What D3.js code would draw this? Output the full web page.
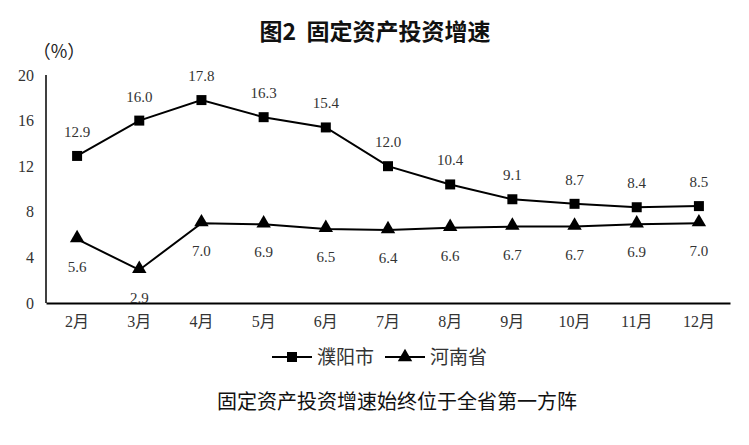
<!DOCTYPE html>
<html><head><meta charset="utf-8">
<script src="https://cdn.jsdelivr.net/npm/d3@7"></script>
<style>body{margin:0;background:#fff}svg{display:block}</style>
</head><body><div id="c"></div>
<script>
const months = ["2月","3月","4月","5月","6月","7月","8月","9月","10月","11月","12月"];
const puyang = [12.9,16.0,17.8,16.3,15.4,12.0,10.4,9.1,8.7,8.4,8.5];
const henan = [5.6,2.9,7.0,6.9,6.5,6.4,6.6,6.7,6.7,6.9,7.0];
const yTicks = [0,4,8,12,16,20];
const seriesNames = ["濮阳市","河南省"];
const title = "图2  固定资产投资增速";
const caption = "固定资产投资增速始终位于全省第一方阵";

const W=749,H=445;
const serif = "'Liberation Serif','Times New Roman','Noto Sans CJK SC',serif";
const cjk = "'Noto Sans CJK SC',sans-serif";
const svg = d3.select("#c").append("svg").attr("width",W).attr("height",H);
const x = d3.scaleBand().domain(months).range([46,730]);
const y = d3.scaleLinear().domain([0,20]).range([303,75]);
const cx = d => x(d)+x.bandwidth()/2;

svg.append("text").attr("x",375).attr("y",40).attr("text-anchor","middle")
  .style("white-space","pre")
  .attr("font-family",cjk).attr("font-weight","bold").attr("font-size",23).attr("fill","#111").text(title);
svg.append("text").attr("x",59).attr("y",58).attr("text-anchor","middle")
  .attr("font-family",cjk).attr("font-size",18).attr("fill","#222").text("（%）");

// y axis
const ya = svg.append("g").attr("transform","translate(46,0)")
  .call(d3.axisLeft(y).tickValues(yTicks).tickSize(0).tickPadding(12));
ya.select(".domain").attr("stroke","#000").attr("stroke-width",1.5).attr("d","M0,75V303");
ya.selectAll("text").attr("font-family",serif).attr("font-size",16).attr("fill","#333");

const xa = svg.append("g").attr("transform","translate(0,303)")
  .call(d3.axisBottom(x).tickSize(0).tickPadding(13));
xa.select(".domain").attr("stroke","#000").attr("stroke-width",2);
xa.selectAll("text").attr("font-family",serif).attr("font-size",16).attr("fill","#333");

const line = d3.line().x((d,i)=>cx(months[i])).y(d=>y(d));
svg.append("path").datum(puyang).attr("d",line).attr("fill","none").attr("stroke","#000").attr("stroke-width",2);
svg.append("path").datum(henan).attr("d",line).attr("fill","none").attr("stroke","#000").attr("stroke-width",2);

const sq = d3.symbol().type(d3.symbolSquare).size(100);
const tri = d3.symbol().type(d3.symbolTriangle).size(90);
svg.selectAll(".sq").data(puyang).enter().append("path")
  .attr("d",sq).attr("transform",(d,i)=>`translate(${cx(months[i])},${y(d)})`).attr("fill","#000");
svg.selectAll(".tr").data(henan).enter().append("path")
  .attr("d",tri).attr("transform",(d,i)=>`translate(${cx(months[i])},${y(d)-1})`).attr("fill","#000");

svg.selectAll(".lp").data(puyang).enter().append("text")
  .attr("x",(d,i)=>cx(months[i])).attr("y",d=>y(d)-19).attr("text-anchor","middle")
  .attr("font-family",serif).attr("font-size",15).attr("fill","#333").text(d=>d.toFixed(1));
svg.selectAll(".lh").data(henan).enter().append("text")
  .attr("x",(d,i)=>cx(months[i])).attr("y",d=>y(d)+33).attr("text-anchor","middle")
  .attr("font-family",serif).attr("font-size",15).attr("fill","#333").text(d=>d.toFixed(1));

// legend
const lg = [{x:272,s:sq,n:seriesNames[0]},{x:385,s:tri,n:seriesNames[1]}];
lg.forEach(l=>{
  svg.append("line").attr("x1",l.x).attr("x2",l.x+40).attr("y1",357).attr("y2",357).attr("stroke","#000").attr("stroke-width",2);
  svg.append("path").attr("d",l.s).attr("transform",`translate(${l.x+20},357)`).attr("fill","#000");
  svg.append("text").attr("x",l.x+45).attr("y",364).attr("font-family",cjk).attr("font-size",19).attr("fill","#333").text(l.n);
});

svg.append("text").attr("x",397).attr("y",409).attr("text-anchor","middle")
  .attr("font-family",cjk).attr("font-size",20).attr("fill","#111").text(caption);
</script></body></html>
